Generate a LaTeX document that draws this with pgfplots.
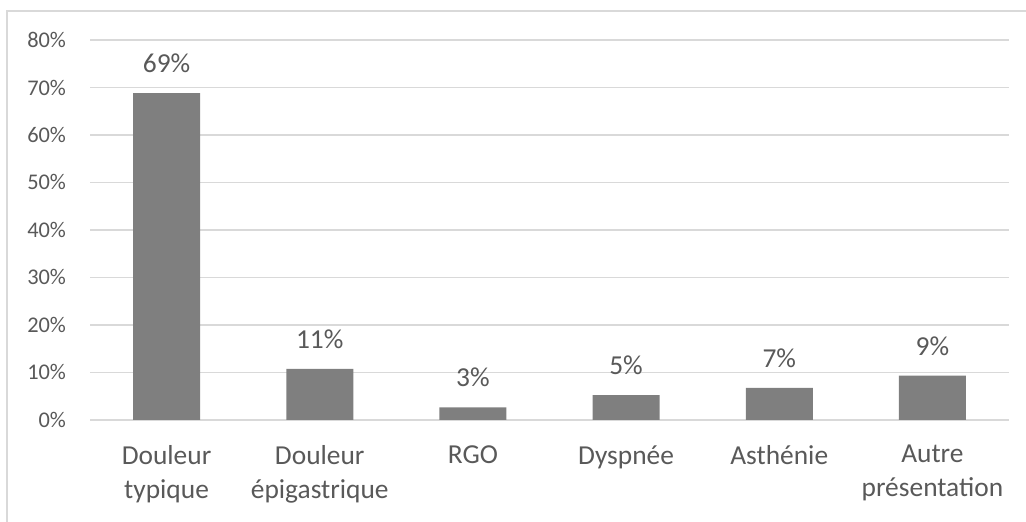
\documentclass[border=0pt]{standalone}
\usepackage{fontspec}
\setmainfont{Carlito}
\usepackage{pgfplots}
\pgfplotsset{compat=1.18}
\definecolor{bargray}{HTML}{7F7F7F}
\definecolor{gridgray}{HTML}{D9D9D9}
\definecolor{txtgray}{HTML}{595959}
\begin{document}
\begin{tikzpicture}
\begin{axis}[
  at={(45pt,51.1pt)}, anchor=south west,
  scale only axis, width=459.5pt, height=189.9pt,
  xmin=-0.5, xmax=5.5, ymin=0, ymax=80,
  ybar, bar width=33.5pt,
  axis lines*=left,
  y axis line style={draw=none},
  x axis line style={draw=gridgray, line width=0.8pt, -},
  ytick={0,10,...,80},
  ymajorgrids, grid style={draw=gridgray, line width=0.8pt},
  major tick length=0pt,
  xtick={0,...,5},
  xticklabels={{Douleur\\typique},{Douleur\\épigastrique},{RGO},{Dyspnée},{Asthénie},{Autre\\présentation}},
  xticklabel style={align=center, anchor=north, inner sep=0pt, yshift=-12.6pt,
    font=\fontsize{13.7}{16.8}\selectfont, text=txtgray},
  yticklabel={\pgfmathprintnumber{\tick}\%},
  yticklabel style={anchor=east, inner sep=0pt, xshift=-11.8pt,
    font=\fontsize{11.2}{13}\selectfont, text=txtgray},
  /pgf/number format/assume math mode=true,
  nodes near coords={\pgfmathprintnumber[fixed,precision=0]{\pgfplotspointmeta}\%},
  every node near coord/.append style={font=\fontsize{13.7}{17}\selectfont, text=txtgray,
    inner sep=0pt, anchor=south, yshift=10pt},
  clip=false,
]
\addplot[fill=bargray, draw=none] coordinates {(0,68.8) (1,10.7) (2,2.6) (3,5.2) (4,6.7) (5,9.3)};
\end{axis}
\draw[gridgray, line width=0.8pt] (3.5pt,0) |- (513pt,255.5pt);
\pgfresetboundingbox
\path[use as bounding box] (0,0) rectangle (513pt,261pt);
\end{tikzpicture}
\end{document}
